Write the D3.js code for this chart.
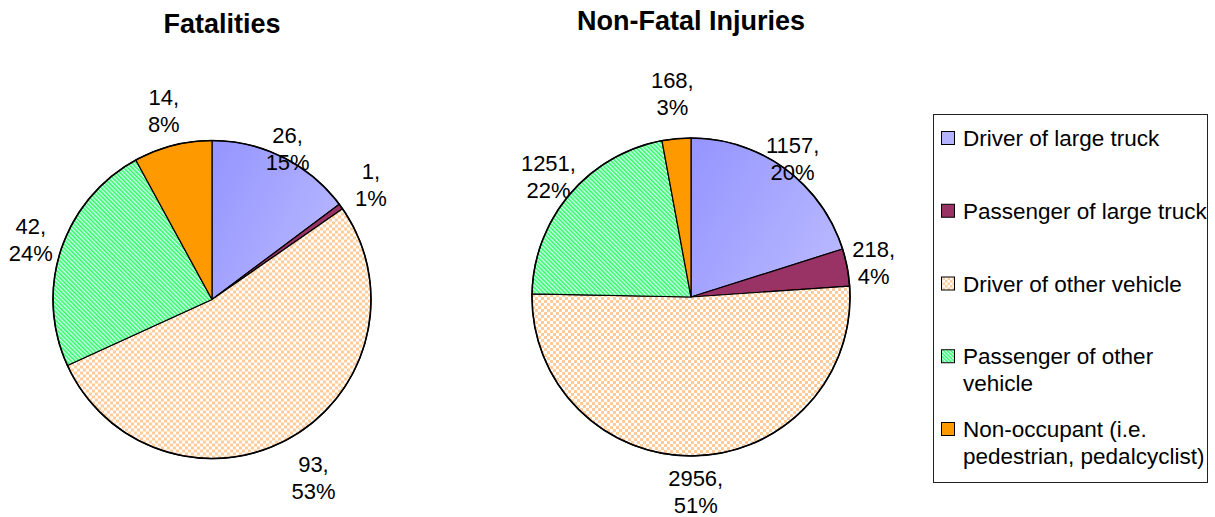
<!DOCTYPE html>
<html>
<head>
<meta charset="utf-8">
<script src="https://cdn.jsdelivr.net/npm/d3@7/dist/d3.min.js"></script>
<style>
  html, body { margin: 0; padding: 0; background: #fff; }
  svg { display: block; font-family: "Liberation Sans", Arial, sans-serif; }
</style>
</head>
<body>
<svg id="chart" width="1215" height="517"></svg>
<script>
// ---- data ----
const categories = [
  "Driver of large truck",
  "Passenger of large truck",
  "Driver of other vehicle",
  "Passenger of other\nvehicle",
  "Non-occupant (i.e.\npedestrian, pedalcyclist)"
];
const fatalities = [26, 1, 93, 42, 14];
const injuries = [1157, 218, 2956, 1251, 168];
const chartTitles = ["Fatalities", "Non-Fatal Injuries"];

// ---- styling ----
const fills = ["url(#gradBlue)", "#993366", "url(#checker)", "url(#stripes)", "#FF9900"];
const legendFills = ["#B3B3FF", "#993366", "url(#checkerL)", "url(#stripesL)", "#FF9900"];
// label distance from pie centre along the slice mid-angle (px)
const fatalLabelDist = [169, 196, 205, 191, 195];
const injuryLabelDist = [172, 186, 195, 187, 204];

const W = 1215, H = 517;
const svg = d3.select("#chart");
svg.append("rect").attr("width", W).attr("height", H).attr("fill", "#fff");

const defs = svg.append("defs");
const g1 = defs.append("linearGradient").attr("id", "gradBlue")
  .attr("x1", 0).attr("y1", 0.2).attr("x2", 1).attr("y2", 0.8);
g1.append("stop").attr("offset", "0%").attr("stop-color", "#9797FF");
g1.append("stop").attr("offset", "100%").attr("stop-color", "#B9B9FF");

function checker(id, s) {
  const p = defs.append("pattern").attr("id", id).attr("patternUnits", "userSpaceOnUse")
    .attr("width", 2 * s).attr("height", 2 * s);
  p.append("rect").attr("width", 2 * s).attr("height", 2 * s).attr("fill", "#FFFFFF");
  p.append("rect").attr("x", 0).attr("y", 0).attr("width", s).attr("height", s).attr("fill", "#FFCC99");
  p.append("rect").attr("x", s).attr("y", s).attr("width", s).attr("height", s).attr("fill", "#FFCC99");
}
checker("checker", 3);
checker("checkerL", 2.5);

function stripes(id, s) {
  const p = defs.append("pattern").attr("id", id).attr("patternUnits", "userSpaceOnUse")
    .attr("width", s).attr("height", s).attr("patternTransform", "rotate(-45)");
  p.append("rect").attr("width", s).attr("height", s).attr("fill", "#CCFFF4");
  p.append("rect").attr("width", s * 0.5).attr("height", s).attr("fill", "#2EF85A");
}
stripes("stripes", 3);
stripes("stripesL", 2.6);

// ---- pies ----
const R = 159;
const pies = [
  { values: fatalities, cx: 212, cy: 299.5, title: chartTitles[0], tx: 222, ty: 33, dist: fatalLabelDist },
  { values: injuries, cx: 691, cy: 297, title: chartTitles[1], tx: 691, ty: 30, dist: injuryLabelDist }
];

const pieGen = d3.pie().sort(null).value(d => d).startAngle(0).endAngle(2 * Math.PI);
const arcGen = d3.arc().innerRadius(0).outerRadius(R);

pies.forEach(pc => {
  const total = d3.sum(pc.values);
  const g = svg.append("g").attr("transform", `translate(${pc.cx},${pc.cy})`);
  const arcs = pieGen(pc.values);
  g.selectAll("path.slice").data(arcs).enter().append("path")
    .attr("class", "slice")
    .attr("d", arcGen)
    .attr("fill", (d, i) => fills[i])
    .attr("stroke", "#000").attr("stroke-width", 1.2).attr("stroke-linejoin", "round");
  g.append("circle").attr("r", R).attr("fill", "none").attr("stroke", "#000").attr("stroke-width", 1.6);

  const lab = g.selectAll("g.lab").data(arcs).enter().append("g").attr("class", "lab")
    .attr("transform", (d, i) => {
      const a = (d.startAngle + d.endAngle) / 2;
      const r = pc.dist[i];
      return `translate(${Math.sin(a) * r},${-Math.cos(a) * r})`;
    });
  lab.append("text").attr("text-anchor", "middle").attr("y", -5.5)
    .attr("font-size", 22).attr("fill", "#000")
    .text(d => d.value + ",");
  lab.append("text").attr("text-anchor", "middle").attr("y", 21.5)
    .attr("font-size", 22).attr("fill", "#000")
    .text(d => Math.round(d.value / total * 100) + "%");

  svg.append("text").attr("x", pc.tx).attr("y", pc.ty)
    .attr("text-anchor", "middle").attr("font-size", 27).attr("font-weight", "bold")
    .attr("fill", "#000").text(pc.title);
});

// ---- legend ----
const lg = svg.append("g");
lg.append("rect").attr("x", 933.5).attr("y", 114.5).attr("width", 274).attr("height", 368)
  .attr("fill", "#fff").attr("stroke", "#222").attr("stroke-width", 1);
const rowY = d3.scalePoint().domain(d3.range(categories.length)).range([146, 437]);
categories.forEach((c, i) => {
  const by = rowY(i);
  lg.append("rect").attr("x", 941.5).attr("y", by - 14.5).attr("width", 13).attr("height", 13)
    .attr("fill", legendFills[i]).attr("stroke", "#000").attr("stroke-width", 1);
  const t = lg.append("text").attr("x", 963).attr("y", by).attr("font-size", 22.5).attr("fill", "#000");
  c.split("\n").forEach((line, k) => {
    t.append("tspan").attr("x", 963).attr("y", by + k * 27).text(line);
  });
});
</script>
</body>
</html>
